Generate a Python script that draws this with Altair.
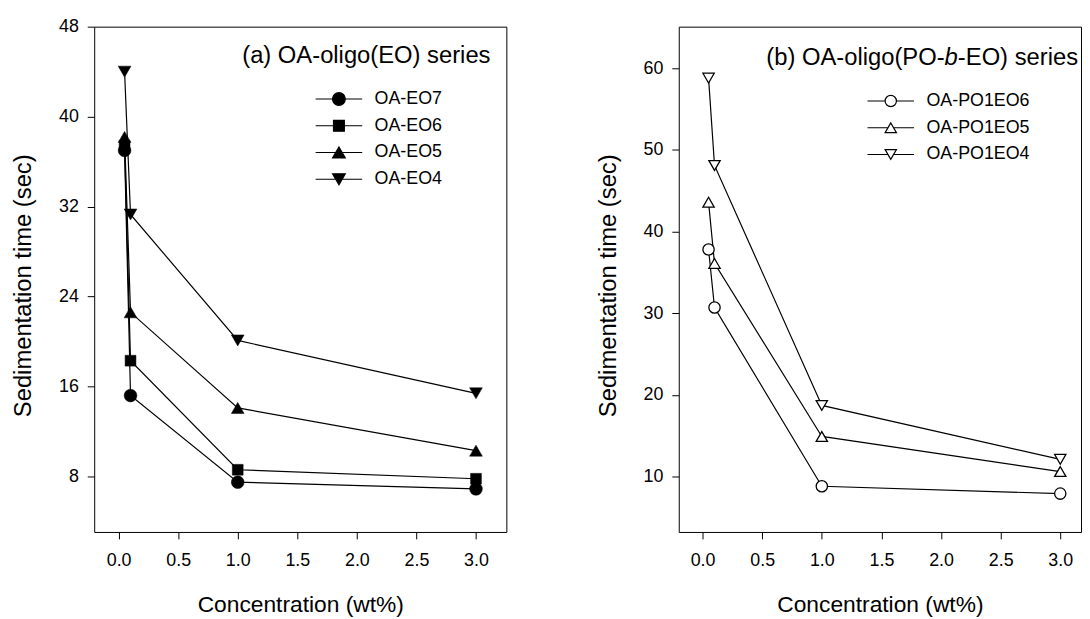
import altair as alt
import pandas as pd

# ---------------- data ----------------
conc = [0.05, 0.1, 1.0, 3.0]

series_a = ["OA-EO7", "OA-EO6", "OA-EO5", "OA-EO4"]
time_eo7 = [37.0, 15.2, 7.5, 6.9]
time_eo6 = [37.4, 18.3, 8.6, 7.8]
time_eo5 = [38.2, 22.6, 14.1, 10.3]
time_eo4 = [44.0, 31.3, 20.1, 15.4]

series_b = ["OA-PO1EO6", "OA-PO1EO5", "OA-PO1EO4"]
time_po1eo6 = [37.8, 30.7, 8.8, 7.9]
time_po1eo5 = [43.6, 36.1, 14.9, 10.6]
time_po1eo4 = [58.8, 48.1, 18.7, 12.1]

x_ticks = [0.0, 0.5, 1.0, 1.5, 2.0, 2.5, 3.0]
y_ticks_a = [8, 16, 24, 32, 40, 48]
y_ticks_b = [10, 20, 30, 40, 50, 60]

title_a = "(a) OA-oligo(EO) series"
title_b_parts = ["(b) OA-oligo(PO-", "b", "-EO) series"]

FONT = "Liberation Sans"


def frame(names, values):
    rows = []
    for n, vals in zip(names, values):
        for c, t in zip(conc, vals):
            rows.append({"conc": c, "time": t, "series": n})
    return pd.DataFrame(rows)


df_a = frame(series_a, [time_eo7, time_eo6, time_eo5, time_eo4])
df_b = frame(series_b, [time_po1eo6, time_po1eo5, time_po1eo4])

# marker shapes (unit box -1..1)
CIRCLE = "M1,0A1,1,0,1,1,-1,0A1,1,0,1,1,1,0Z"
SQUARE = "M-0.85,-0.85H0.85V0.85H-0.85Z"
TRI_UP = "M0,-0.866L-1,0.866L1,0.866Z"
TRI_DN = "M0,0.866L-1,-0.866L1,-0.866Z"


def legend_path(marker, half_len, gap):
    if gap > 0:
        line = f"M-{half_len},0H-{gap}M{gap},0H{half_len}"
    else:
        line = f"M-{half_len},0H{half_len}"
    return line + marker


def panel(df, names, shapes, leg_markers, gaps, fill, stroke_w, size,
          ydom, yticks, xdom, legend_xy, label_offset):
    half_len = round(23.5 / ((size ** 0.5) / 2), 3)
    paths = [legend_path(m, half_len, g if fill == "white" else 0)
             for m, g in zip(leg_markers, gaps)]
    base = alt.Chart(df)
    x = alt.X("conc:Q", scale=alt.Scale(domain=xdom, nice=False, zero=False),
              axis=alt.Axis(values=x_ticks, format=".1f",
                            title="Concentration (wt%)"))
    y = alt.Y("time:Q", scale=alt.Scale(domain=ydom, nice=False, zero=False),
              axis=alt.Axis(values=yticks, title="Sedimentation time (sec)",
                            titleY=261))
    lines = base.mark_line(color="black", strokeWidth=1.2).encode(
        x=x, y=y, detail="series:N", order="conc:Q")
    points = base.mark_point(filled=True, fill=fill, stroke="black",
                             strokeWidth=stroke_w, size=size, opacity=1).encode(
        x=x, y=y,
        shape=alt.Shape("series:N", scale=alt.Scale(domain=names, range=shapes),
                        legend=None))
    legend_layer = base.transform_filter("false").mark_point(
        filled=True, fill=fill, stroke="black", strokeWidth=1.2, size=size,
        opacity=1
    ).encode(
        x=x, y=y,
        shape=alt.Shape("series:N", scale=alt.Scale(domain=names, range=paths),
                        legend=alt.Legend(
                            title=None, orient="none",
                            legendX=legend_xy[0], legendY=legend_xy[1],
                            direction="vertical", symbolSize=size,
                            symbolStrokeWidth=1.2,
                            labelFont=FONT, labelFontSize=18,
                            labelColor="black", labelOffset=label_offset,
                            rowPadding=9, padding=0, labelLimit=400)))
    return alt.layer(lines, points, legend_layer).resolve_scale(shape="independent")


# ---- panel a ----
layer_a = panel(df_a, series_a,
                ["circle", SQUARE, "triangle-up", "triangle-down"],
                [CIRCLE, SQUARE, TRI_UP, TRI_DN], [1, 0.85, 0.5, 0.5],
                "black", 0.5, 165, [3.07, 48.0], y_ticks_a,
                [-0.205, 3.255], (238, 64), 27)

title_a_mark = alt.Chart(pd.DataFrame({"t": [title_a]})).mark_text(
    font=FONT, fontSize=24, align="right", baseline="alphabetic", color="black"
).encode(x=alt.value(400), y=alt.value(37), text="t:N")

chart_a = alt.layer(layer_a, title_a_mark).properties(width=416, height=510)

# ---- panel b ----
layer_b = panel(df_b, series_b,
                ["circle", "triangle-up", "triangle-down"],
                [CIRCLE, TRI_UP, TRI_DN], [1, 0.5, 0.5],
                "white", 1.3, 130, [3.2, 65.1], y_ticks_b,
                [-0.2, 3.174], (205, 66), 27)

FS = 24
w_suffix = 5.056 * FS
w_b_it = 0.556 * FS
right_b = 403
title_b_marks = [
    alt.Chart(pd.DataFrame({"t": [title_b_parts[0]]})).mark_text(
        font=FONT, fontSize=FS, align="right", baseline="alphabetic", color="black"
    ).encode(x=alt.value(right_b - w_suffix - w_b_it), y=alt.value(38.7), text="t:N"),
    alt.Chart(pd.DataFrame({"t": [title_b_parts[1]]})).mark_text(
        font=FONT, fontSize=FS, fontStyle="italic", align="right",
        baseline="alphabetic", color="black"
    ).encode(x=alt.value(right_b - w_suffix), y=alt.value(38.7), text="t:N"),
    alt.Chart(pd.DataFrame({"t": [title_b_parts[2]]})).mark_text(
        font=FONT, fontSize=FS, align="right", baseline="alphabetic", color="black"
    ).encode(x=alt.value(right_b), y=alt.value(38.7), text="t:N"),
]

chart_b = alt.layer(layer_b, *title_b_marks).properties(width=406, height=510)

chart = alt.hconcat(chart_a, chart_b, spacing=174, bounds="flush").properties(
    padding={"left": 3, "top": 6, "right": 0, "bottom": 0}
).configure_view(
    stroke="black", strokeWidth=1
).configure_axis(
    grid=False, domain=False, tickColor="black", tickSize=7, tickWidth=1,
    labelFont=FONT, labelFontSize=18, labelColor="black",
    titleFont=FONT, titleFontSize=23, titleFontWeight="normal",
    titleColor="black"
).configure_axisX(
    labelPadding=13, titlePadding=24
).configure_axisY(
    labelPadding=9, titlePadding=23, titleFontSize=24
)

chart.save("out.html", embed_options={"renderer": "svg", "actions": False})
